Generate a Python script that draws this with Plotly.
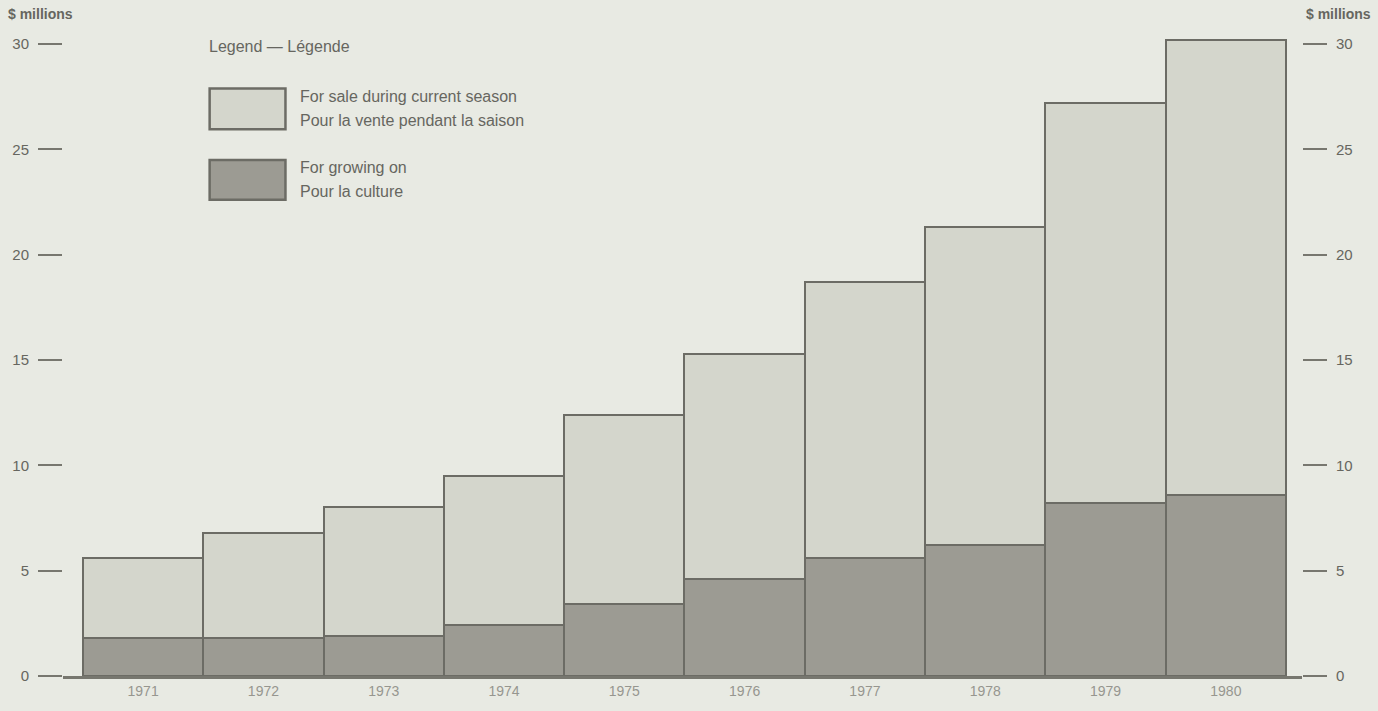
import plotly.graph_objects as go

# ---- data (values in $ millions) ----
years = ["1971", "1972", "1973", "1974", "1975", "1976", "1977", "1978", "1979", "1980"]
growing_on = [1.8, 1.8, 1.9, 2.4, 3.4, 4.6, 5.6, 6.2, 8.2, 8.6]
totals = [5.6, 6.8, 8.0, 9.5, 12.4, 15.3, 18.7, 21.3, 27.2, 30.2]
for_sale = [round(t - g, 2) for t, g in zip(totals, growing_on)]
y_ticks = [0, 5, 10, 15, 20, 25, 30]
sale_names = ["For sale during current season", "Pour la vente pendant la saison"]
grow_names = ["For growing on", "Pour la culture"]
legend_title = "Legend — Légende"
unit_label = "$ millions"

# ---- style ----
BG = "#e8eae3"
LIGHT = "#d4d6cc"
DARK = "#9c9b93"
EDGE = "#6c6c65"
TXT = "#66665f"
FONT = "Liberation Sans, Arial, sans-serif"

W, H = 1378, 711
L, R, T, B = 60, 76, 23, 30
PW, PH = W - L - R, H - T - B


def xp(px):
    return (px - L) / PW


def yp(py):
    return (H - B - py) / PH


fig = go.Figure()
fig.add_trace(go.Bar(x=years, y=growing_on, name=" ".join(grow_names),
                     marker=dict(color=DARK, line=dict(color=EDGE, width=2))))
fig.add_trace(go.Bar(x=years, y=for_sale, name=" ".join(sale_names),
                     marker=dict(color=LIGHT, line=dict(color=EDGE, width=2))))
# carrier for the right-hand value axis (draws nothing)
fig.add_trace(go.Scatter(x=years, y=totals, yaxis="y2", mode="none",
                         hoverinfo="skip", showlegend=False))

axis_common = dict(range=[0, 31], tickvals=y_ticks, ticks="outside", ticklen=24,
                   tickwidth=2, tickcolor="#77776f", showline=False, showgrid=False,
                   zeroline=False, ticklabelstandoff=6,
                   tickfont=dict(family=FONT, size=15, color=TXT))

fig.update_layout(
    width=W, height=H,
    margin=dict(l=L, r=R, t=T, b=B),
    paper_bgcolor=BG, plot_bgcolor=BG,
    barmode="stack", bargap=0,
    showlegend=False,
    xaxis=dict(type="category", range=[-0.666, 9.633], showline=True,
               linecolor="#77776f", linewidth=2.5, ticks="", showgrid=False,
               zeroline=False, tickfont=dict(family=FONT, size=14, color="#96968f")),
    yaxis=dict(side="left", **axis_common),
    yaxis2=dict(side="right", overlaying="y", anchor="x", **axis_common),
)

ann = []
# unit labels
ann.append(dict(x=xp(3), y=yp(14), xref="paper", yref="paper", text="<b>" + unit_label + "</b>",
                showarrow=False, xanchor="left", yanchor="middle",
                font=dict(family=FONT, size=14, color=TXT)))
ann.append(dict(x=xp(1373), y=yp(14), xref="paper", yref="paper", text="<b>" + unit_label + "</b>",
                showarrow=False, xanchor="right", yanchor="middle",
                font=dict(family=FONT, size=14, color=TXT)))
# legend
ann.append(dict(x=xp(204), y=yp(47), xref="paper", yref="paper", text=legend_title,
                showarrow=False, xanchor="left", yanchor="middle",
                font=dict(family=FONT, size=16, color=TXT)))
shapes = []
for (top, bot, col, names) in [(89, 130, LIGHT, sale_names), (161, 201, DARK, grow_names)]:
    shapes.append(dict(type="rect", xref="paper", yref="paper",
                       x0=xp(207), x1=xp(283), y0=yp(bot), y1=yp(top),
                       fillcolor=col, line=dict(color=EDGE, width=2.5)))
    ann.append(dict(x=xp(296), y=yp(top + 8), xref="paper", yref="paper", text=names[0],
                    showarrow=False, xanchor="left", yanchor="middle",
                    font=dict(family=FONT, size=16, color=TXT)))
    ann.append(dict(x=xp(296), y=yp(top + 32), xref="paper", yref="paper", text=names[1],
                    showarrow=False, xanchor="left", yanchor="middle",
                    font=dict(family=FONT, size=16, color=TXT)))

fig.update_layout(annotations=ann, shapes=shapes)
fig.write_html("out.html", config={"displayModeBar": False},
               post_script="document.body.style.margin='0';document.body.style.background='%s';" % BG)
